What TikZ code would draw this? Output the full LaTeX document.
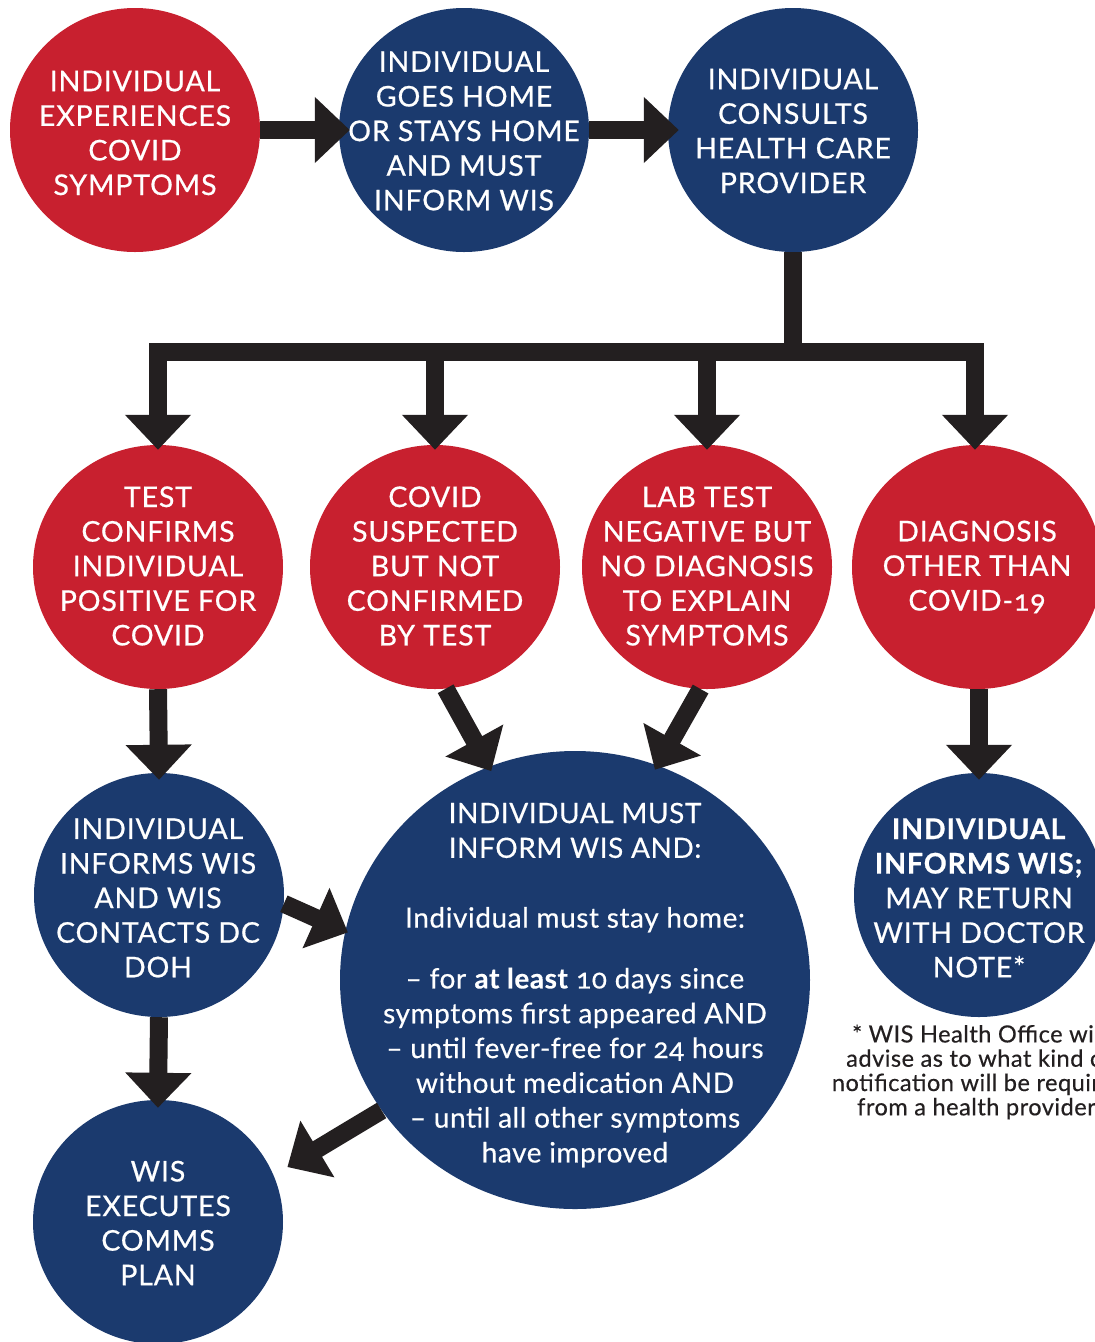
\documentclass[tikz,border=0pt]{standalone}
\usepackage{fontspec}
\setmainfont{Lato}[Numbers=OldStyle]
\newfontfamily\capsfont{Lato}[Numbers=OldStyle, FakeBold=0.6, LetterSpace=3]
\newfontfamily\bodyfont{Lato}[Numbers=OldStyle, FakeBold=0.4, LetterSpace=2]
\usetikzlibrary{arrows.meta,shapes.geometric}
\definecolor{cred}{HTML}{C8202F}
\definecolor{cblue}{HTML}{1B3A6E}
\definecolor{cblk}{HTML}{231F20}
\begin{document}
\begin{tikzpicture}[x=1pt,y=-1pt,
  circ/.style={ellipse, minimum width=250pt, minimum height=244pt, inner sep=0pt},
  rc/.style={circ, fill=cred},
  bc/.style={circ, fill=cblue},
  txt/.style={text=white, align=center, inner sep=0pt, font=\capsfont\fontsize{28.5}{34.6}\selectfont},
  bodytxt/.style={text=white, align=center, inner sep=0pt, font=\bodyfont\fontsize{28}{34.8}\selectfont},
  note/.style={text=cblk, align=center, inner sep=0pt, font=\bodyfont\fontsize{23.6}{24.3}\selectfont},
  stem/.style={line width=18pt, draw=cblk},
  arr/.style={line width=18pt, draw=cblk, -{Triangle[width=64pt 0 0,length=35pt 0 0]}}]
\clip (0,0) rectangle (1095,1342);
\fill[white] (0,0) rectangle (1095,1342);

% row 1
\node[rc] (c1) at (135,130) {};
\node[bc] (c2) at (464,130) {};
\node[bc] (c3) at (793,130) {};
% row 2
\node[rc] (r1) at (158,567) {};
\node[rc] (r2) at (435,567) {};
\node[rc] (r3) at (707,567) {};
\node[rc] (r4) at (977,567) {};
% row 3
\node[bc] (b1) at (159,895) {};
\node[bc, minimum width=470pt, minimum height=458pt] (big) at (575,980) {};
\node[bc] (b3) at (979,895) {};
% row 4
\node[bc] (b4) at (158,1222) {};

% texts
\node[txt] (t1) at (135,133) {INDIVIDUAL\\EXPERIENCES\\COVID\\SYMPTOMS};
\node[txt] (t2) at (464,131) {INDIVIDUAL\\GOES HOME\\OR STAYS HOME\\AND MUST\\INFORM WIS};
\node[txt] (t3) at (793,131) {INDIVIDUAL\\CONSULTS\\HEALTH CARE\\PROVIDER};
\node[txt] (tr1) at (158,566) {TEST\\CONFIRMS\\INDIVIDUAL\\POSITIVE FOR\\COVID};
\node[txt] (tr2) at (435,566) {COVID\\SUSPECTED\\BUT NOT\\CONFIRMED\\BY TEST};
\node[txt] (tr3) at (707,566) {LAB TEST\\NEGATIVE BUT\\NO DIAGNOSIS\\TO EXPLAIN\\SYMPTOMS};
\node[txt] (tr4) at (977,567) {DIAGNOSIS\\OTHER THAN\\COVID-19};
\node[txt] (tb1) at (158,898) {INDIVIDUAL\\INFORMS WIS\\AND WIS\\CONTACTS DC\\DOH};
\node[txt] (tb3) at (979,898) {\textbf{INDIVIDUAL}\\\textbf{INFORMS WIS;}\\MAY RETURN\\WITH DOCTOR\\NOTE*};
\node[txt] (tb4) at (158,1223) {WIS\\EXECUTES\\COMMS\\PLAN};
\node[bodytxt] (tbig) at (575,985) {INDIVIDUAL MUST\\INFORM WIS AND:\\[35pt]
Individual must stay home:\\[26pt]
– for \textbf{at least} 10 days since\\
symptoms first appeared AND\\
– until fever-free for 24 hours\\
without medication AND\\
– until all other symptoms\\
have improved};
\node[note] (fn) at (979,1072) {* WIS Health Office will\\advise as to what kind of\\notification will be required\\from a health provider.};

% connectors
\draw[arr, shorten >=-11pt] (c1) -- (c2);
\draw[arr, shorten >=-11pt] (c2) -- (c3);
\coordinate (bl) at (149,352);
\coordinate (br) at (984,352);
\draw[stem] (c3.south) -- (c3.south |- bl);
\draw[stem] (bl) -- (br);
\coordinate (d1) at (158,343);
\coordinate (d2) at (435,343);
\coordinate (d3) at (707,343);
\coordinate (d4) at (975,343);
\draw[arr, shorten >=-5pt] (d1) -- (r1.north);
\draw[arr, shorten >=-5pt] (d2) -- (r2.north);
\draw[arr, shorten >=-5pt] (d3) -- (r3.north);
\draw[arr, shorten >=-5pt] (d4) -- (d4 |- r4.north);
\draw[arr, shorten >=-7pt] (r1.south) -- (b1.north);
\draw[arr, shorten >=-5pt] (r2.-85) -- (big.112);
\draw[arr, shorten >=-5pt] (r3.-93) -- (big.69);
\draw[arr, shorten >=-7pt] (b3.north |- r4.south) -- (b3.north);
\draw[arr, shorten >=-3pt] (b1.-4) -- (big.168);
\draw[arr, shorten >=-8pt] (b1.south) -- (b4.north);
\draw[arr, shorten >=16pt] (big.214.5) -- (b4.22);
\end{tikzpicture}
\end{document}
